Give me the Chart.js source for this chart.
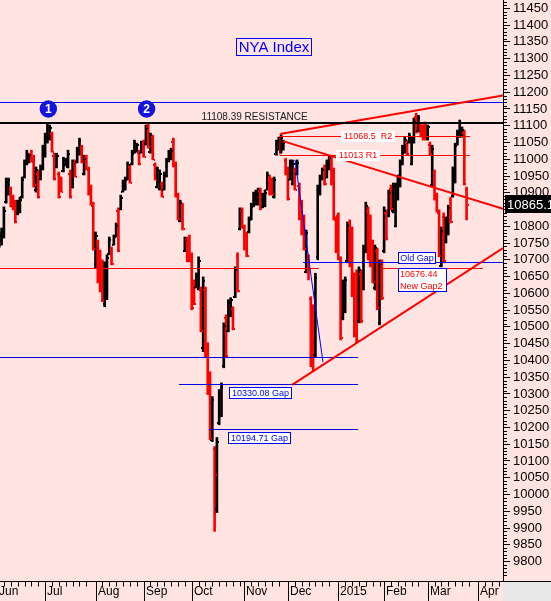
<!DOCTYPE html>
<html>
<head>
<meta charset="utf-8">
<title>NYA Index</title>
<script src="https://cdn.jsdelivr.net/npm/chart.js@4.4.1/dist/chart.umd.min.js"></script>
<style>
  html, body { margin: 0; padding: 0; background: #ffe4e1; }
  canvas { display: block; }
</style>
</head>
<body>
<canvas id="chart" width="551" height="601"></canvas>
<script>
// x axis: trading-day index, 0 = 2 Jun 2014
const monthLabels = ['Jun', 'Jul', 'Aug', 'Sep', 'Oct', 'Nov', 'Dec', '2015', 'Feb', 'Mar', 'Apr'];
const monthStarts = [0, 21, 43, 64, 85, 108, 127, 149, 169, 188, 210];
const firstBar = 1;

// daily bars
const high = [
  10783, 10795, 10858, 10944, 10944, 10917, 10893, 10878, 10878, 10887,
  10947, 10998, 11027, 11018, 11027, 11012, 10977, 10968, 10983, 11042,
  11078, 11108, 11102, 11081, 11018, 11018, 10962, 10947, 11006, 11003,
  11027, 10968, 10998, 10998, 11036, 11063, 11042, 11012, 11012, 10977,
  10923, 10872, 10783, 10759, 10729, 10700, 10694, 10715, 10768, 10738,
  10774, 10810, 10855, 10893, 10938, 10947, 10992, 10983, 11027, 11057,
  11048, 11027, 11054, 11057, 11102, 11108, 11078, 11072, 10989, 10977,
  10968, 10932, 10962, 11003, 11027, 11033, 11063, 10992, 10899, 10878,
  10869, 10768, 10768, 10774, 10721, 10640, 10661, 10709, 10619, 10649,
  10619, 10453, 10366, 10292, 10143, 10170, 10313, 10333, 10512, 10536,
  10581, 10587, 10560, 10679, 10721, 10855, 10855, 10804, 10783, 10828,
  10869, 10902, 10908, 10914, 10914, 10899, 10908, 10962, 10953, 10944,
  10947, 11057, 11066, 11072, 11057, 11003, 10977, 10998, 10998, 10974,
  10998, 10929, 10878, 10834, 10789, 10715, 10590, 10566, 10660, 10923,
  10953, 10974, 10983, 10998, 11012, 11012, 10974, 10828, 10840, 10709,
  10640, 10649, 10813, 10819, 10798, 10661, 10670, 10679, 10670, 10744,
  10872, 10858, 10834, 10759, 10744, 10735, 10700, 10700, 10858, 10849,
  10908, 10923, 10929, 10929, 10953, 10998, 11042, 11066, 11057, 11078,
  11066, 11123, 11137, 11131, 11108, 11102, 11111, 11102, 11051, 11042,
  10968, 10899, 10849, 10798, 10840, 10828, 10863, 10887, 10977, 11048,
  11087, 11117, 11096, 11087, 10917
];
const low = [
  10738, 10744, 10765, 10869, 10893, 10858, 10849, 10810, 10834, 10840,
  10884, 10944, 10983, 10989, 10992, 10917, 10902, 10884, 10938, 10968,
  11006, 11048, 11057, 11021, 10938, 10974, 10884, 10902, 10962, 10980,
  10974, 10884, 10914, 10947, 10989, 11012, 10989, 10953, 10968, 10893,
  10863, 10729, 10676, 10631, 10604, 10575, 10560, 10581, 10715, 10685,
  10744, 10768, 10724, 10849, 10902, 10908, 10938, 10929, 10983, 11018,
  11021, 10983, 11018, 11006, 11042, 11033, 11018, 10998, 10938, 10914,
  10908, 10887, 10908, 10947, 10992, 10998, 10977, 10887, 10819, 10813,
  10789, 10724, 10694, 10694, 10551, 10566, 10616, 10610, 10485, 10426,
  10411, 10298, 10164, 10158, 9890, 9946, 10208, 10232, 10378, 10408,
  10485, 10530, 10491, 10587, 10604, 10789, 10795, 10729, 10709, 10780,
  10819, 10858, 10863, 10863, 10849, 10855, 10858, 10908, 10893, 10893,
  10884, 11012, 11027, 11018, 11027, 10953, 10878, 10938, 10923, 10908,
  10953, 10819, 10774, 10729, 10661, 10640, 10381, 10366, 10411, 10700,
  10893, 10938, 10923, 10944, 10968, 10923, 10819, 10721, 10700, 10461,
  10521, 10542, 10691, 10679, 10590, 10470, 10453, 10512, 10512, 10610,
  10721, 10700, 10679, 10631, 10610, 10551, 10506, 10581, 10721, 10759,
  10828, 10849, 10840, 10798, 10878, 10917, 10983, 11018, 11012, 11048,
  10983, 11048, 11078, 11081, 11066, 11057, 11057, 11057, 11012, 10917,
  10878, 10843, 10709, 10679, 10691, 10750, 10774, 10810, 10887, 10929,
  11042, 11066, 11066, 10923, 10819
];
const open = [
  10745, 10760, 10790, 10875, 10920, 10915, 10885, 10870, 10840, 10850,
  10890, 10950, 10990, 10995, 11020, 11005, 10910, 10960, 10945, 10975,
  11015, 11060, 11065, 11078, 11012, 10980, 10958, 10940, 10968, 10985,
  10980, 10960, 10920, 10992, 10995, 11020, 11038, 10960, 11008, 10970,
  10918, 10865, 10690, 10755, 10720, 10695, 10570, 10590, 10720, 10735,
  10748, 10772, 10850, 10855, 10905, 10912, 10942, 10980, 10988, 11022,
  11025, 11022, 11022, 11052, 11048, 11100, 11025, 11068, 10985, 10920,
  10915, 10928, 10912, 10952, 10998, 11002, 11055, 10985, 10892, 10820,
  10865, 10728, 10762, 10768, 10715, 10635, 10620, 10615, 10612, 10440,
  10612, 10445, 10360, 10165, 10140, 9960, 10215, 10240, 10385, 10530,
  10492, 10535, 10555, 10592, 10715, 10795, 10850, 10798, 10778, 10785,
  10825, 10862, 10868, 10870, 10908, 10860, 10862, 10912, 10948, 10940,
  10890, 11018, 11032, 11025, 11032, 10998, 10970, 10942, 10930, 10968,
  10958, 10922, 10870, 10828, 10668, 10710, 10585, 10560, 10420, 10710,
  10898, 10942, 10978, 10948, 10972, 11008, 10968, 10822, 10835, 10702,
  10528, 10548, 10698, 10812, 10792, 10655, 10662, 10520, 10662, 10618,
  10728, 10850, 10828, 10752, 10618, 10728, 10515, 10692, 10728, 10842,
  10835, 10915, 10848, 10805, 10885, 10922, 10988, 11022, 11052, 11052,
  10990, 11055, 11130, 11088, 11102, 11095, 11105, 11062, 11045, 10925,
  10960, 10892, 10842, 10685, 10832, 10755, 10780, 10880, 10892, 10935,
  11048, 11072, 11070, 11080, 10910
];
const close = [
  10775, 10790, 10850, 10935, 10940, 10870, 10855, 10815, 10870, 10880,
  10940, 10990, 11020, 11015, 10995, 10925, 10970, 10890, 10978, 11035,
  11070, 11100, 11095, 11025, 10945, 11012, 10890, 10905, 11000, 11000,
  11020, 10890, 10990, 10950, 11030, 11058, 10995, 11005, 10972, 10898,
  10868, 10735, 10775, 10640, 10610, 10580, 10688, 10708, 10762, 10690,
  10770, 10805, 10730, 10888, 10932, 10942, 10985, 10932, 11020, 11052,
  11045, 10988, 11050, 11010, 11095, 11040, 11072, 11002, 10942, 10970,
  10960, 10890, 10955, 10998, 11022, 11028, 10982, 10892, 10825, 10872,
  10795, 10762, 10700, 10700, 10560, 10570, 10655, 10700, 10490, 10640,
  10420, 10305, 10170, 10285, 10060, 10160, 10305, 10325, 10505, 10415,
  10575, 10582, 10497, 10672, 10610, 10848, 10800, 10735, 10715, 10822,
  10862, 10896, 10900, 10908, 10855, 10892, 10902, 10955, 10898, 10898,
  10940, 11050, 11060, 11066, 11052, 10958, 10885, 10992, 10990, 10912,
  10992, 10825, 10780, 10735, 10782, 10675, 10390, 10375, 10650, 10918,
  10948, 10970, 10928, 10992, 11008, 10928, 10825, 10728, 10708, 10470,
  10632, 10642, 10805, 10685, 10598, 10478, 10460, 10672, 10520, 10738,
  10865, 10708, 10685, 10638, 10738, 10558, 10692, 10588, 10850, 10765,
  10902, 10855, 10922, 10922, 10948, 10992, 11036, 11060, 11018, 11072,
  11060, 11115, 11085, 11125, 11070, 11062, 11062, 11098, 11018, 11035,
  10885, 10848, 10715, 10790, 10698, 10820, 10858, 10815, 10970, 11042,
  11082, 11110, 11090, 10930, 10865.15
];

// drawn levels
const topBlue = 11170;
const resistance = 11108.39;
const r2 = 11068.5;
const r1 = 11013;
const oldGap = 10694;
const newGap = 10676.44;
const gapA = 10411;
const gapB = 10330.08;
const gapC = 10194.71;
// trend lines: [index0, value0, index1, value1]
const upperTrend = [123.5, 11075, 220.9, 11190];
const fallingTrend = [124.8, 11054, 220.9, 10852];
const lowerTrend = [128.8, 10327, 220.9, 10735];
const decemberDrop = [130.1, 10998, 142.3, 10395];

const UP = '#000000';
const DOWN = '#ff0000';
const FONT = "'Liberation Sans', Arial, sans-serif";
const isDown = i => close[i] < open[i];

const background = {
  id: 'background',
  beforeDraw(chart) {
    const { ctx, width, height, chartArea: a } = chart;
    ctx.save();
    ctx.fillStyle = '#ffe4e1';
    ctx.fillRect(0, 0, width, height);
    ctx.fillStyle = '#e8e8e8';
    ctx.fillRect(a.right, a.bottom, width - a.right, height - a.bottom);
    ctx.restore();
  }
};

// open / close ticks on each high-low bar
const ohlcTicks = {
  id: 'ohlcTicks',
  afterDatasetsDraw(chart) {
    const { ctx, chartArea: a, scales: { x, y } } = chart;
    ctx.save();
    ctx.beginPath();
    ctx.rect(a.left, a.top, a.width, a.height);
    ctx.clip();
    for (let i = 0; i < high.length; i++) {
      const px = Math.round(x.getPixelForValue(firstBar + i));
      ctx.fillStyle = isDown(i) ? DOWN : UP;
      ctx.fillRect(px - 2, Math.round(y.getPixelForValue(open[i])), 1, 2);
      ctx.fillRect(px + 1, Math.round(y.getPixelForValue(close[i])), 1, 2);
    }
    ctx.restore();
  }
};

const overlays = {
  id: 'overlays',
  afterDatasetsDraw(chart) {
    const { ctx, width, chartArea: a, scales: { x, y } } = chart;
    const X = i => x.getPixelForValue(i);
    const Y = v => y.getPixelForValue(v);
    const hline = (v, i0, i1, color, w) => {
      const py = Math.round(Y(v)) + (w % 2 ? 0.5 : 0);
      ctx.strokeStyle = color;
      ctx.lineWidth = w;
      ctx.beginPath();
      ctx.moveTo(X(i0), py);
      ctx.lineTo(X(i1), py);
      ctx.stroke();
    };
    const seg = ([i0, v0, i1, v1], color, w) => {
      ctx.strokeStyle = color;
      ctx.lineWidth = w;
      ctx.beginPath();
      ctx.moveTo(X(i0), Y(v0));
      ctx.lineTo(X(i1), Y(v1));
      ctx.stroke();
    };
    const label = (lines, left, top, w, h, o) => {
      left = Math.round(left);
      top = Math.round(top);
      if (o.fill) {
        ctx.fillStyle = o.fill;
        ctx.fillRect(left, top, w, h);
      }
      if (o.border) {
        ctx.strokeStyle = o.border;
        ctx.lineWidth = 1;
        ctx.strokeRect(left + 0.5, top + 0.5, w - 1, h - 1);
      }
      ctx.fillStyle = o.color;
      ctx.font = o.font;
      ctx.textBaseline = 'middle';
      ctx.textAlign = o.center ? 'center' : 'left';
      const lh = h / lines.length;
      lines.forEach((t, k) => {
        ctx.fillText(t, o.center ? left + w / 2 : left + 2, top + lh * (k + 0.5) + 0.5);
      });
    };

    ctx.save();
    ctx.beginPath();
    ctx.rect(a.left, a.top, a.width, a.height);
    ctx.clip();
    hline(topBlue, x.min, x.max, '#0000ff', 1);
    hline(gapA, x.min, 157.6, '#0000dd', 1);
    hline(gapB, 79.4, 157.6, '#0000dd', 1);
    hline(gapC, 92.5, 157.6, '#0000dd', 1);
    hline(oldGap, 133.6, x.max, '#0000ff', 1);
    hline(newGap, x.min, 140.5, '#ff0000', 1);
    hline(newGap, 168.5, 212.1, '#ff0000', 1);
    hline(r2, 123.5, 206.5, '#ff0000', 1);
    hline(r1, 123.5, 206.5, '#ff0000', 1);
    seg([123.5, r2, 123.5, r1], '#ff0000', 1);
    seg(decemberDrop, '#0000ff', 1);
    seg(upperTrend, '#ff0000', 2);
    seg(fallingTrend, '#ff0000', 2);
    seg(lowerTrend, '#ff0000', 2);
    hline(resistance, x.min, x.max, '#000000', 2);
    ctx.restore();

    ctx.save();
    // the two tops
    [[22.4, '1'], [65.3, '2']].forEach(([i, t]) => {
      const cx = X(i), cy = Y(11150);
      ctx.fillStyle = '#1414e0';
      ctx.beginPath();
      ctx.arc(cx, cy, 8.7, 0, Math.PI * 2);
      ctx.fill();
      ctx.fillStyle = '#ffffff';
      ctx.font = 'bold 12px ' + FONT;
      ctx.textAlign = 'center';
      ctx.textBaseline = 'middle';
      ctx.fillText(t, cx, cy + 1);
    });

    ctx.fillStyle = '#202020';
    ctx.font = '10px ' + FONT;
    ctx.textAlign = 'left';
    ctx.textBaseline = 'alphabetic';
    ctx.fillText('11108.39 RESISTANCE', X(89.3), Y(resistance) - 3);

    label(['NYA Index'], X(104.3), Y(11361), 76, 18,
      { border: '#0000ff', color: '#0000ff', font: '15px ' + FONT, center: true });
    label(['11068.5  R2'], X(150), Y(r2) - 5, 54, 11,
      { fill: '#ffffff', color: '#ff0000', font: '9px ' + FONT, center: true });
    label(['11013 R1'], X(148), Y(r1) - 5, 44, 11,
      { fill: '#ffffff', color: '#ff0000', font: '9px ' + FONT, center: true });
    label(['10330.08 Gap'], X(101.4), Y(gapB) + 3, 63, 12,
      { fill: '#ffffff', border: '#0000ff', color: '#0000ff', font: '9px ' + FONT, center: true });
    label(['10194.71 Gap'], X(101), Y(gapC) + 3, 63, 12,
      { fill: '#ffffff', border: '#0000ff', color: '#0000ff', font: '9px ' + FONT, center: true });
    label(['Old Gap'], X(175.2), Y(oldGap) - 10, 38, 12,
      { fill: '#ffffff', border: '#0000ff', color: '#0000ff', font: '9px ' + FONT, center: true });
    label(['10676.44', 'New Gap2'], X(174.9), Y(newGap), 49, 24,
      { fill: '#ffffff', border: '#0000ff', color: '#ff0000', font: '9px ' + FONT });

    // last price tag on the value axis
    const ty = Math.round(Y(close[close.length - 1]));
    ctx.fillStyle = '#000000';
    ctx.fillRect(a.right + 2, ty - 9, width - a.right - 2, 18);
    ctx.fillStyle = '#ffffff';
    ctx.font = '13px ' + FONT;
    ctx.textAlign = 'left';
    ctx.textBaseline = 'middle';
    ctx.fillText('10865.15', a.right + 4, ty + 1);
    ctx.restore();
  }
};

// month axis along the bottom
const monthAxis = {
  id: 'monthAxis',
  afterDraw(chart) {
    const { ctx, width, height, chartArea: a, scales: { x } } = chart;
    const base = Math.round(a.bottom) + 0.5;
    ctx.save();
    ctx.strokeStyle = '#000000';
    ctx.lineWidth = 1;
    ctx.beginPath();
    ctx.moveTo(0, base);
    ctx.lineTo(width, base);
    for (let k = 0; k < monthStarts.length; k++) {
      const next = monthStarts[k + 1] || monthStarts[k] + 22;
      for (let d = monthStarts[k] + 3; d < next - 1; d += 3) {
        const px = Math.round(x.getPixelForValue(d)) + 0.5;
        if (px > a.right) break;
        ctx.moveTo(px, base);
        ctx.lineTo(px, base + 5);
      }
      const mx = Math.round(x.getPixelForValue(monthStarts[k])) + 0.5;
      ctx.moveTo(mx, base);
      ctx.lineTo(mx, height);
    }
    ctx.stroke();
    ctx.fillStyle = '#000000';
    ctx.font = '12px ' + FONT;
    ctx.textAlign = 'left';
    ctx.textBaseline = 'middle';
    monthStarts.forEach((m, k) => {
      ctx.fillText(monthLabels[k], Math.round(x.getPixelForValue(m)) + 2, base + 10);
    });
    ctx.restore();
  }
};

// minor ticks on the value axis, every 10 points
const minorTicks = {
  id: 'minorTicks',
  afterDraw(chart) {
    const { ctx, chartArea: a, scales: { y } } = chart;
    ctx.save();
    ctx.strokeStyle = '#000000';
    ctx.lineWidth = 1;
    ctx.beginPath();
    for (let v = 9750; v <= 11470; v += 10) {
      if (v % 50 === 0) continue;
      const py = Math.round(y.getPixelForValue(v)) + 0.5;
      ctx.moveTo(a.right, py);
      ctx.lineTo(a.right + 4, py);
    }
    ctx.stroke();
    ctx.restore();
  }
};

new Chart(document.getElementById('chart'), {
  type: 'bar',
  data: {
    datasets: [{
      data: high.map((h, i) => ({ x: firstBar + i, y: [low[i], h] })),
      backgroundColor: high.map((h, i) => isDown(i) ? DOWN : UP),
      borderWidth: 0,
      barThickness: 2,
    }]
  },
  options: {
    responsive: false,
    animation: false,
    events: [],
    layout: { padding: { left: 0, top: 0, right: 0, bottom: 20 } },
    plugins: {
      legend: { display: false },
      tooltip: { enabled: false },
    },
    scales: {
      x: {
        type: 'linear', min: 1.3, max: 220.9, display: false,
        offset: false, grid: { offset: false },
      },
      y: {
        position: 'right',
        min: 9742,
        max: 11475,
        afterBuildTicks: s => {
          const t = [];
          for (let v = 9800; v <= 11450; v += 50) t.push({ value: v });
          s.ticks = t;
        },
        afterFit: s => {
          s.width = 48;
          s.paddingTop = 0;
          s.paddingBottom = 0;
        },
        grid: { drawOnChartArea: false, tickLength: 7, color: '#000000' },
        border: { color: '#000000' },
        ticks: {
          color: '#000000',
          autoSkip: false,
          padding: 3,
          font: { family: FONT, size: 13 },
          callback: v => String(v),
        },
      }
    }
  },
  plugins: [background, ohlcTicks, overlays, minorTicks, monthAxis]
});
</script>
</body>
</html>
